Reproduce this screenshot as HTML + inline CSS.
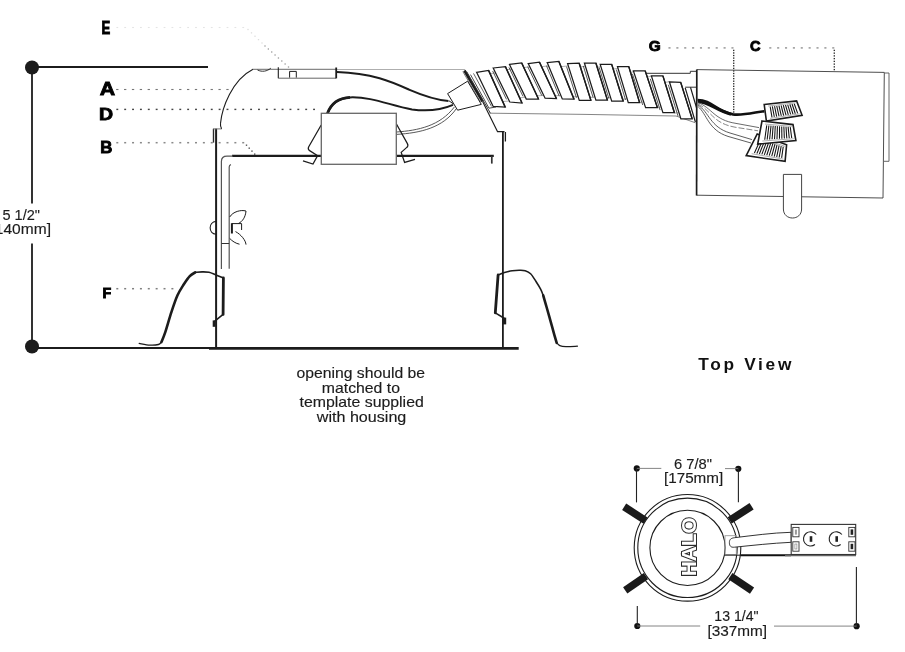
<!DOCTYPE html>
<html><head><meta charset="utf-8"><title>Recessed housing diagram</title>
<style>
html,body{margin:0;padding:0;background:#fff;}
body{width:905px;height:652px;overflow:hidden;font-family:"Liberation Sans",sans-serif;}
svg{display:block;will-change:transform;opacity:0.9999;}
svg text{font-family:"Liberation Sans",sans-serif;}
</style></head>
<body>
<svg width="905" height="652" viewBox="0 0 905 652">
<rect width="905" height="652" fill="#fff"/>
<g id="dimleft">
<line x1="32" y1="67" x2="208" y2="67" stroke="#1c1c1c" stroke-width="2" />
<line x1="32" y1="67" x2="32" y2="203.4" stroke="#1c1c1c" stroke-width="1.8" />
<line x1="32" y1="243.5" x2="32" y2="347" stroke="#1c1c1c" stroke-width="1.8" />
<line x1="32" y1="348" x2="210" y2="348" stroke="#1c1c1c" stroke-width="1.9" />
<circle cx="32" cy="67.5" r="7" fill="#1c1c1c"/>
<circle cx="32" cy="346.5" r="7" fill="#1c1c1c"/>
<text x="2.5" y="219.9" font-size="14.5" font-weight="normal" fill="#1c1c1c" textLength="37.5" lengthAdjust="spacingAndGlyphs"  stroke="#1c1c1c" stroke-width="0.15">5 1/2"</text>
<text x="-9.5" y="233.9" font-size="14.5" font-weight="normal" fill="#1c1c1c" textLength="60.5" lengthAdjust="spacingAndGlyphs"  stroke="#1c1c1c" stroke-width="0.15">[140mm]</text>
</g>
<g id="labels" font-weight="bold">
<text transform="matrix(0.13097,0,0,0.18986,101.499,33.550)" x="0" y="0" font-size="100" font-weight="bold" fill="#000" stroke="#000" stroke-width="0.9" vector-effect="non-scaling-stroke">E</text>
<text transform="matrix(0.21343,0,0,0.18116,99.816,95.350)" x="0" y="0" font-size="100" font-weight="bold" fill="#000" stroke="#000" stroke-width="0.9" vector-effect="non-scaling-stroke">A</text>
<text transform="matrix(0.19512,0,0,0.16667,99.082,119.550)" x="0" y="0" font-size="100" font-weight="bold" fill="#000" stroke="#000" stroke-width="0.9" vector-effect="non-scaling-stroke">D</text>
<text transform="matrix(0.16721,0,0,0.16377,100.363,152.750)" x="0" y="0" font-size="100" font-weight="bold" fill="#000" stroke="#000" stroke-width="0.9" vector-effect="non-scaling-stroke">B</text>
<text transform="matrix(0.14314,0,0,0.15109,102.520,298.376)" x="0" y="0" font-size="100" font-weight="bold" fill="#000" stroke="#000" stroke-width="0.9" vector-effect="non-scaling-stroke">F</text>
<text transform="matrix(0.15407,0,0,0.15493,648.734,51.195)" x="0" y="0" font-size="100" font-weight="bold" fill="#000" stroke="#000" stroke-width="0.9" vector-effect="non-scaling-stroke">G</text>
<text transform="matrix(0.14656,0,0,0.15493,750.064,51.195)" x="0" y="0" font-size="100" font-weight="bold" fill="#000" stroke="#000" stroke-width="0.9" vector-effect="non-scaling-stroke">C</text>
</g>
<g id="dots">
<rect x="116.4" y="26.95" width="1.8" height="1.1" fill="#e4e4e4"/>
<rect x="124.27" y="26.95" width="1.8" height="1.1" fill="#e4e4e4"/>
<rect x="132.14" y="26.95" width="1.8" height="1.1" fill="#e4e4e4"/>
<rect x="140.01" y="26.95" width="1.8" height="1.1" fill="#e4e4e4"/>
<rect x="147.88" y="26.95" width="1.8" height="1.1" fill="#e4e4e4"/>
<rect x="155.75" y="26.95" width="1.8" height="1.1" fill="#e4e4e4"/>
<rect x="163.62" y="26.95" width="1.8" height="1.1" fill="#e4e4e4"/>
<rect x="171.49" y="26.95" width="1.8" height="1.1" fill="#e4e4e4"/>
<rect x="179.36" y="26.95" width="1.8" height="1.1" fill="#e4e4e4"/>
<rect x="187.23" y="26.95" width="1.8" height="1.1" fill="#e4e4e4"/>
<rect x="195.1" y="26.95" width="1.8" height="1.1" fill="#e4e4e4"/>
<rect x="202.97" y="26.95" width="1.8" height="1.1" fill="#e4e4e4"/>
<rect x="210.84" y="26.95" width="1.8" height="1.1" fill="#e4e4e4"/>
<rect x="218.71" y="26.95" width="1.8" height="1.1" fill="#e4e4e4"/>
<rect x="226.58" y="26.95" width="1.8" height="1.1" fill="#e4e4e4"/>
<rect x="234.45" y="26.95" width="1.8" height="1.1" fill="#e4e4e4"/>
<rect x="242.32" y="26.95" width="1.8" height="1.1" fill="#e4e4e4"/>
<rect x="247.35" y="28.85" width="1.3" height="1.3" fill="#ddd"/>
<rect x="250.85" y="32.23" width="1.3" height="1.3" fill="#ddd"/>
<rect x="254.35" y="35.6" width="1.3" height="1.3" fill="#ddd"/>
<rect x="257.85" y="38.98" width="1.3" height="1.3" fill="#ddd"/>
<rect x="261.35" y="42.35" width="1.3" height="1.3" fill="#ddd"/>
<rect x="264.35" y="45.35" width="1.3" height="1.3" fill="#999"/>
<rect x="267.71" y="48.35" width="1.3" height="1.3" fill="#999"/>
<rect x="271.06" y="51.35" width="1.3" height="1.3" fill="#999"/>
<rect x="274.42" y="54.35" width="1.3" height="1.3" fill="#999"/>
<rect x="277.78" y="57.35" width="1.3" height="1.3" fill="#999"/>
<rect x="281.14" y="60.35" width="1.3" height="1.3" fill="#999"/>
<rect x="284.49" y="63.35" width="1.3" height="1.3" fill="#999"/>
<rect x="287.85" y="66.35" width="1.3" height="1.3" fill="#999"/>
<rect x="116.15" y="88.95" width="2.3" height="1.1" fill="#777"/>
<rect x="124.02" y="88.95" width="2.3" height="1.1" fill="#777"/>
<rect x="131.89" y="88.95" width="2.3" height="1.1" fill="#777"/>
<rect x="139.76" y="88.95" width="2.3" height="1.1" fill="#777"/>
<rect x="147.63" y="88.95" width="2.3" height="1.1" fill="#777"/>
<rect x="155.5" y="88.95" width="2.3" height="1.1" fill="#777"/>
<rect x="163.37" y="88.95" width="2.3" height="1.1" fill="#777"/>
<rect x="171.24" y="88.95" width="2.3" height="1.1" fill="#777"/>
<rect x="179.11" y="88.95" width="2.3" height="1.1" fill="#777"/>
<rect x="186.98" y="88.95" width="2.3" height="1.1" fill="#777"/>
<rect x="194.85" y="88.95" width="2.3" height="1.1" fill="#777"/>
<rect x="202.72" y="88.95" width="2.3" height="1.1" fill="#777"/>
<rect x="210.59" y="88.95" width="2.3" height="1.1" fill="#777"/>
<rect x="218.46" y="88.95" width="2.3" height="1.1" fill="#777"/>
<rect x="226.33" y="88.95" width="2.3" height="1.1" fill="#777"/>
<rect x="116.35" y="108.7" width="1.9" height="1.4" fill="#444"/>
<rect x="124.22" y="108.7" width="1.9" height="1.4" fill="#444"/>
<rect x="132.09" y="108.7" width="1.9" height="1.4" fill="#444"/>
<rect x="139.96" y="108.7" width="1.9" height="1.4" fill="#444"/>
<rect x="147.83" y="108.7" width="1.9" height="1.4" fill="#444"/>
<rect x="155.7" y="108.7" width="1.9" height="1.4" fill="#444"/>
<rect x="163.57" y="108.7" width="1.9" height="1.4" fill="#444"/>
<rect x="171.44" y="108.7" width="1.9" height="1.4" fill="#444"/>
<rect x="179.31" y="108.7" width="1.9" height="1.4" fill="#444"/>
<rect x="187.18" y="108.7" width="1.9" height="1.4" fill="#444"/>
<rect x="195.05" y="108.7" width="1.9" height="1.4" fill="#444"/>
<rect x="202.92" y="108.7" width="1.9" height="1.4" fill="#444"/>
<rect x="210.79" y="108.7" width="1.9" height="1.4" fill="#444"/>
<rect x="218.66" y="108.7" width="1.9" height="1.4" fill="#444"/>
<rect x="226.53" y="108.7" width="1.9" height="1.4" fill="#444"/>
<rect x="234.4" y="108.7" width="1.9" height="1.4" fill="#444"/>
<rect x="242.27" y="108.7" width="1.9" height="1.4" fill="#444"/>
<rect x="250.14" y="108.7" width="1.9" height="1.4" fill="#444"/>
<rect x="258.01" y="108.7" width="1.9" height="1.4" fill="#444"/>
<rect x="265.88" y="108.7" width="1.9" height="1.4" fill="#444"/>
<rect x="273.75" y="108.7" width="1.9" height="1.4" fill="#444"/>
<rect x="281.62" y="108.7" width="1.9" height="1.4" fill="#444"/>
<rect x="289.49" y="108.7" width="1.9" height="1.4" fill="#444"/>
<rect x="297.36" y="108.7" width="1.9" height="1.4" fill="#444"/>
<rect x="305.23" y="108.7" width="1.9" height="1.4" fill="#444"/>
<rect x="313.1" y="108.7" width="1.9" height="1.4" fill="#444"/>
<rect x="116.3" y="141.95" width="2.0" height="1.5" fill="#8a8a8a"/>
<rect x="124.17" y="141.95" width="2.0" height="1.5" fill="#8a8a8a"/>
<rect x="132.04" y="141.95" width="2.0" height="1.5" fill="#8a8a8a"/>
<rect x="139.91" y="141.95" width="2.0" height="1.5" fill="#8a8a8a"/>
<rect x="147.78" y="141.95" width="2.0" height="1.5" fill="#8a8a8a"/>
<rect x="155.65" y="141.95" width="2.0" height="1.5" fill="#8a8a8a"/>
<rect x="163.52" y="141.95" width="2.0" height="1.5" fill="#8a8a8a"/>
<rect x="171.39" y="141.95" width="2.0" height="1.5" fill="#8a8a8a"/>
<rect x="179.26" y="141.95" width="2.0" height="1.5" fill="#8a8a8a"/>
<rect x="187.13" y="141.95" width="2.0" height="1.5" fill="#8a8a8a"/>
<rect x="195" y="141.95" width="2.0" height="1.5" fill="#8a8a8a"/>
<rect x="202.87" y="141.95" width="2.0" height="1.5" fill="#8a8a8a"/>
<rect x="210.74" y="141.95" width="2.0" height="1.5" fill="#8a8a8a"/>
<rect x="218.61" y="141.95" width="2.0" height="1.5" fill="#8a8a8a"/>
<rect x="226.48" y="141.95" width="2.0" height="1.5" fill="#8a8a8a"/>
<rect x="234.35" y="141.95" width="2.0" height="1.5" fill="#8a8a8a"/>
<rect x="242.22" y="141.95" width="2.0" height="1.5" fill="#8a8a8a"/>
<rect x="245.8" y="144.5" width="1.4" height="1.4" fill="#555"/>
<rect x="248.53" y="147.47" width="1.4" height="1.4" fill="#555"/>
<rect x="251.27" y="150.43" width="1.4" height="1.4" fill="#555"/>
<rect x="254" y="153.4" width="1.4" height="1.4" fill="#555"/>
<rect x="116.3" y="287.95" width="2.0" height="1.5" fill="#808080"/>
<rect x="124.17" y="287.95" width="2.0" height="1.5" fill="#808080"/>
<rect x="132.04" y="287.95" width="2.0" height="1.5" fill="#808080"/>
<rect x="139.91" y="287.95" width="2.0" height="1.5" fill="#808080"/>
<rect x="147.78" y="287.95" width="2.0" height="1.5" fill="#808080"/>
<rect x="155.65" y="287.95" width="2.0" height="1.5" fill="#808080"/>
<rect x="163.52" y="287.95" width="2.0" height="1.5" fill="#808080"/>
<rect x="171.39" y="287.95" width="2.0" height="1.5" fill="#808080"/>
<rect x="668.45" y="47.15" width="2.1" height="1.5" fill="#999"/>
<rect x="676.32" y="47.15" width="2.1" height="1.5" fill="#999"/>
<rect x="684.19" y="47.15" width="2.1" height="1.5" fill="#999"/>
<rect x="692.06" y="47.15" width="2.1" height="1.5" fill="#999"/>
<rect x="699.93" y="47.15" width="2.1" height="1.5" fill="#999"/>
<rect x="707.8" y="47.15" width="2.1" height="1.5" fill="#999"/>
<rect x="715.67" y="47.15" width="2.1" height="1.5" fill="#999"/>
<rect x="723.54" y="47.15" width="2.1" height="1.5" fill="#999"/>
<rect x="731.41" y="47.15" width="2.1" height="1.5" fill="#999"/>
<rect x="733.03" y="49.73" width="1.35" height="1.35" fill="#2a2a2a"/>
<rect x="733.03" y="52.29" width="1.35" height="1.35" fill="#2a2a2a"/>
<rect x="733.03" y="54.86" width="1.35" height="1.35" fill="#2a2a2a"/>
<rect x="733.03" y="57.43" width="1.35" height="1.35" fill="#2a2a2a"/>
<rect x="733.03" y="59.99" width="1.35" height="1.35" fill="#2a2a2a"/>
<rect x="733.03" y="62.56" width="1.35" height="1.35" fill="#2a2a2a"/>
<rect x="733.03" y="65.12" width="1.35" height="1.35" fill="#2a2a2a"/>
<rect x="733.03" y="67.69" width="1.35" height="1.35" fill="#2a2a2a"/>
<rect x="733.03" y="70.26" width="1.35" height="1.35" fill="#2a2a2a"/>
<rect x="733.03" y="72.83" width="1.35" height="1.35" fill="#2a2a2a"/>
<rect x="733.03" y="75.39" width="1.35" height="1.35" fill="#2a2a2a"/>
<rect x="733.03" y="77.96" width="1.35" height="1.35" fill="#2a2a2a"/>
<rect x="733.03" y="80.53" width="1.35" height="1.35" fill="#2a2a2a"/>
<rect x="733.03" y="83.09" width="1.35" height="1.35" fill="#2a2a2a"/>
<rect x="733.03" y="85.66" width="1.35" height="1.35" fill="#2a2a2a"/>
<rect x="733.03" y="88.23" width="1.35" height="1.35" fill="#2a2a2a"/>
<rect x="733.03" y="90.79" width="1.35" height="1.35" fill="#2a2a2a"/>
<rect x="733.03" y="93.36" width="1.35" height="1.35" fill="#2a2a2a"/>
<rect x="733.03" y="95.92" width="1.35" height="1.35" fill="#2a2a2a"/>
<rect x="733.03" y="98.49" width="1.35" height="1.35" fill="#2a2a2a"/>
<rect x="733.03" y="101.06" width="1.35" height="1.35" fill="#2a2a2a"/>
<rect x="733.03" y="103.62" width="1.35" height="1.35" fill="#2a2a2a"/>
<rect x="733.03" y="106.19" width="1.35" height="1.35" fill="#2a2a2a"/>
<rect x="733.03" y="108.76" width="1.35" height="1.35" fill="#2a2a2a"/>
<rect x="733.03" y="111.33" width="1.35" height="1.35" fill="#2a2a2a"/>
<rect x="769.25" y="47.15" width="2.1" height="1.5" fill="#999"/>
<rect x="777.12" y="47.15" width="2.1" height="1.5" fill="#999"/>
<rect x="784.99" y="47.15" width="2.1" height="1.5" fill="#999"/>
<rect x="792.86" y="47.15" width="2.1" height="1.5" fill="#999"/>
<rect x="800.73" y="47.15" width="2.1" height="1.5" fill="#999"/>
<rect x="808.6" y="47.15" width="2.1" height="1.5" fill="#999"/>
<rect x="816.47" y="47.15" width="2.1" height="1.5" fill="#999"/>
<rect x="824.34" y="47.15" width="2.1" height="1.5" fill="#999"/>
<rect x="832.21" y="47.15" width="2.1" height="1.5" fill="#999"/>
<rect x="833.62" y="49.73" width="1.35" height="1.35" fill="#2a2a2a"/>
<rect x="833.62" y="52.47" width="1.35" height="1.35" fill="#2a2a2a"/>
<rect x="833.62" y="55.21" width="1.35" height="1.35" fill="#2a2a2a"/>
<rect x="833.62" y="57.95" width="1.35" height="1.35" fill="#2a2a2a"/>
<rect x="833.62" y="60.7" width="1.35" height="1.35" fill="#2a2a2a"/>
<rect x="833.62" y="63.44" width="1.35" height="1.35" fill="#2a2a2a"/>
<rect x="833.62" y="66.18" width="1.35" height="1.35" fill="#2a2a2a"/>
<rect x="833.62" y="68.92" width="1.35" height="1.35" fill="#2a2a2a"/>
</g>
<g id="housing">
<line x1="209" y1="348.4" x2="518.7" y2="348.4" stroke="#1c1c1c" stroke-width="2.8" />
<line x1="216.1" y1="128.7" x2="216.1" y2="348" stroke="#1c1c1c" stroke-width="2" />
<line x1="213.5" y1="128.8" x2="213.5" y2="142.6" stroke="#2a2a2a" stroke-width="1.4" />
<line x1="213" y1="128.9" x2="221.8" y2="128.9" stroke="#666" stroke-width="0.9" />
<path d="M221.6,128.8 C220.6,127 220.2,125.6 220.5,123.4 C222,108 232,80 253,69.3" stroke="#1c1c1c" stroke-width="1.1" fill="none" />
<line x1="252.5" y1="69.3" x2="337" y2="69.3" stroke="#444" stroke-width="0.8" />
<path d="M257.5,70 C262,72.2 267,71.4 270.8,68.2" stroke="#1c1c1c" stroke-width="0.9" fill="none" />
<line x1="336" y1="69.5" x2="465" y2="69.5" stroke="#999" stroke-width="0.8" />
<line x1="278.3" y1="67.3" x2="278.3" y2="78.3" stroke="#1c1c1c" stroke-width="1.1" />
<line x1="278.3" y1="78.2" x2="336" y2="78.2" stroke="#555" stroke-width="0.9" />
<line x1="336.2" y1="67.5" x2="336.2" y2="78.4" stroke="#1c1c1c" stroke-width="1.8" />
<path d="M289.6,77.6 V71.4 H296.3 V77.6" stroke="#1c1c1c" stroke-width="1" fill="none" />
<line x1="502.9" y1="131" x2="502.9" y2="348" stroke="#1c1c1c" stroke-width="1.8" />
<path d="M505.4,132 V141.5" stroke="#1c1c1c" stroke-width="1.3" fill="none" />
<path d="M464.4,70.5 L482.6,101.5" stroke="#1c1c1c" stroke-width="2.6" fill="none" />
<path d="M466.6,71.5 L490.5,113.4" stroke="#333" stroke-width="1" fill="none" />
<path d="M462.8,71.5 L480.5,102" stroke="#555" stroke-width="0.8" fill="none" />
<path d="M482.6,101.5 L497.5,131.6 H504.5" stroke="#1c1c1c" stroke-width="1.1" fill="none" />
<line x1="232" y1="155.9" x2="321.3" y2="155.9" stroke="#1c1c1c" stroke-width="2.2" />
<line x1="396.3" y1="155.9" x2="493.8" y2="155.9" stroke="#1c1c1c" stroke-width="2.2" />
<line x1="491.8" y1="156" x2="491.8" y2="163.6" stroke="#333" stroke-width="1.7" />
<path d="M221.4,269 V161.5 Q221.4,156.2 227,156.2 H233" stroke="#555" stroke-width="1.2" fill="none" />
<path d="M229.2,268.8 V167 Q229.2,165 231,164.6" stroke="#555" stroke-width="1.2" fill="none" />
<line x1="221.4" y1="243.5" x2="229.2" y2="243.5" stroke="#333" stroke-width="1" />
<path d="M216,221.4 C208.2,222 208.2,233.6 216,234.2" stroke="#1c1c1c" stroke-width="1.1" fill="none" />
<path d="M229.7,217 C233,211.5 241,209.6 246,211 C245.5,217 242.5,221.6 238.5,223.4" stroke="#1c1c1c" stroke-width="1" fill="none" />
<line x1="231.9" y1="223.2" x2="231.9" y2="233.5" stroke="#1c1c1c" stroke-width="2" />
<path d="M232,223.6 H241.6 V230" stroke="#1c1c1c" stroke-width="1" fill="none" />
<path d="M229.7,238.4 C232,241 236,243.6 239.5,244.2 M246,244.6 C245.8,240.5 241,234.4 235.5,231.6" stroke="#1c1c1c" stroke-width="1" fill="none" />
</g>
<g id="wires" fill="none">
<path d="M337,72 C372,73 392,82 409,89.6 C425,96.5 436,100 448.5,101" stroke="#1c1c1c" stroke-width="2.0" fill="none" />
<path d="M327.5,113.2 C331,104 338,98 350,97.4 C372,96.6 390,105.5 412,109.4 C428,111.6 441,110 453,104.8" stroke="#1c1c1c" stroke-width="2.0" fill="none" />
<path d="M327.5,113.2 C331,104 338,98 350,97.4" stroke="#1c1c1c" stroke-width="2.8" fill="none" />
<path d="M396.5,132 C418,130.5 440,126 454.5,106.8" stroke="#444" stroke-width="0.9" fill="none" />
<path d="M396.5,134.4 C420,133 443,128 456.5,108.4" stroke="#444" stroke-width="0.9" fill="none" />
<path d="M449,100.8 L453.5,104" stroke="#1c1c1c" stroke-width="1" fill="none" />
<polygon points="447.6,93.6 467.6,81.2 481.3,104.4 457.6,110.2" stroke="#1c1c1c" stroke-width="1" fill="#fff" stroke-linejoin="miter" />
</g>
<g id="xfmr">
<path d="M321.2,125 L308.6,147 Q307.6,149.4 309.6,150.6 L317.6,155.6 L313,164 L303,160.8" stroke="#1c1c1c" stroke-width="1.25" fill="none" />
<path d="M396.3,123.8 L407.4,143.6 Q408.6,146 406.8,147.4 L401.2,152.4 L404.6,162.4 L415,159.4" stroke="#1c1c1c" stroke-width="1.25" fill="none" />
<rect x="321.3" y="113.3" width="75" height="51" fill="#fff" stroke="#666" stroke-width="1.3"/>
</g>
<g id="springs" fill="none" stroke-linecap="round" stroke-linejoin="round">
<path d="M139.2,343.4 C140.98,343.68 146.7,344.92 149.9,345.1 C153.1,345.28 156.48,345 158.4,344.5 C160.32,344 160.9,342.5 161.4,342.1" stroke="#1c1c1c" stroke-width="1.3" fill="none" />
<path d="M161.4,342.1 C162.05,340.43 163.63,337.1 165.3,332.1 C166.97,327.1 169.37,318.23 171.4,312.1 C173.43,305.97 175.45,299.9 177.5,295.3 C179.55,290.7 181.65,287.7 183.7,284.5 C185.75,281.3 187.88,278.12 189.8,276.1 C191.72,274.08 194.3,273.02 195.2,272.4" stroke="#1c1c1c" stroke-width="2.6" fill="none" />
<path d="M195.2,272.4 C196.35,272.32 199.8,271.92 202.1,271.9 C204.4,271.88 206.7,271.8 209,272.3 C211.3,272.8 213.5,273.95 215.9,274.9 C218.3,275.85 222.15,277.48 223.4,278" stroke="#1c1c1c" stroke-width="1.6" fill="none" />
<path d="M223.4,278 L223.1,314.4" stroke="#1c1c1c" stroke-width="2.8" fill="none" />
<path d="M223.1,314.4 L215.1,320.8" stroke="#1c1c1c" stroke-width="1.6" fill="none" />
<rect x="212.7" y="320.4" width="3" height="6.4" fill="#1c1c1c"/>
<path d="M498.1,275 C499.17,274.6 502.15,273.32 504.5,272.6 C506.85,271.88 509.63,271.08 512.2,270.7 C514.77,270.32 517.73,270.28 519.9,270.3 C522.07,270.32 523.42,270.22 525.2,270.8 C526.98,271.38 528.8,272.02 530.6,273.8 C532.4,275.58 534.33,278.95 536,281.5 C537.67,284.05 539.4,286.8 540.6,289.1 C541.8,291.4 542.77,294.27 543.2,295.3" stroke="#1c1c1c" stroke-width="1.6" fill="none" />
<path d="M543.2,295.3 C543.78,297.33 545.47,303.17 546.7,307.5 C547.93,311.83 549.32,316.68 550.6,321.3 C551.88,325.92 553.38,331.62 554.4,335.2 C555.42,338.78 556.32,341.53 556.7,342.8" stroke="#1c1c1c" stroke-width="2.6" fill="none" />
<path d="M556.7,342.8 C557.22,343.27 558.27,344.97 559.8,345.6 C561.33,346.23 562.97,346.5 565.9,346.6 C568.83,346.7 575.48,346.27 577.4,346.2" stroke="#1c1c1c" stroke-width="1.3" fill="none" />
<path d="M498.1,275 L495.3,312.9" stroke="#1c1c1c" stroke-width="2.8" fill="none" />
<path d="M495.3,312.9 L503.8,318" stroke="#1c1c1c" stroke-width="1.6" fill="none" />
<rect x="502.8" y="317.6" width="3.4" height="6.8" fill="#1c1c1c"/>
</g>
<g id="conduit">
<path d="M646.5,73.3 H690.3 V71.3 H697" stroke="#333" stroke-width="1" fill="none" />
<path d="M685.2,87.2 H697" stroke="#333" stroke-width="1" fill="none" />
<path d="M488.5,112.6 L491,113.2 L585,114.4 L676,116 L695.5,122.8" stroke="#777" stroke-width="0.9" fill="none" />
<line x1="489.31" y1="73.75" x2="496.01" y2="72.95" stroke="#999" stroke-width="0.8" />
<line x1="502.57" y1="101.5" x2="509.31" y2="101" stroke="#999" stroke-width="0.8" />
<line x1="492.66" y1="71" x2="506.53" y2="99.4" stroke="#444" stroke-width="0.9" />
<line x1="506.28" y1="69.8" x2="512.12" y2="69" stroke="#999" stroke-width="0.8" />
<line x1="519.71" y1="97.8" x2="525.47" y2="97.3" stroke="#999" stroke-width="0.8" />
<line x1="508.96" y1="67.4" x2="523.04" y2="96.4" stroke="#444" stroke-width="0.9" />
<line x1="523.25" y1="67.6" x2="530.15" y2="66.8" stroke="#999" stroke-width="0.8" />
<line x1="536.75" y1="95.9" x2="543.73" y2="95.4" stroke="#999" stroke-width="0.8" />
<line x1="527.67" y1="66.6" x2="541.83" y2="95.6" stroke="#444" stroke-width="0.9" />
<line x1="541.01" y1="66.7" x2="548.91" y2="65.9" stroke="#999" stroke-width="0.8" />
<line x1="555.01" y1="95.85" x2="560.82" y2="95.35" stroke="#999" stroke-width="0.8" />
<line x1="546.45" y1="65.6" x2="559.22" y2="96.3" stroke="#444" stroke-width="0.9" />
<line x1="560.61" y1="66.7" x2="568.59" y2="65.9" stroke="#999" stroke-width="0.8" />
<line x1="572.98" y1="96.95" x2="578.04" y2="96.45" stroke="#999" stroke-width="0.8" />
<line x1="566.55" y1="66.6" x2="576.47" y2="97.8" stroke="#444" stroke-width="0.9" />
<line x1="580.25" y1="66.9" x2="585.61" y2="66.1" stroke="#999" stroke-width="0.8" />
<line x1="589.83" y1="97.55" x2="594.95" y2="97.05" stroke="#999" stroke-width="0.8" />
<line x1="583.33" y1="66" x2="593.09" y2="97.5" stroke="#444" stroke-width="0.9" />
<line x1="597.23" y1="67.3" x2="601.11" y2="66.5" stroke="#999" stroke-width="0.8" />
<line x1="606.58" y1="97.95" x2="610.53" y2="97.45" stroke="#999" stroke-width="0.8" />
<line x1="599.14" y1="67.4" x2="608.89" y2="98.6" stroke="#444" stroke-width="0.9" />
<line x1="613.17" y1="69.1" x2="618.25" y2="68.3" stroke="#999" stroke-width="0.8" />
<line x1="622.42" y1="99.2" x2="627.13" y2="98.7" stroke="#999" stroke-width="0.8" />
<line x1="616.4" y1="69.6" x2="625.52" y2="100" stroke="#444" stroke-width="0.9" />
<line x1="630.52" y1="72.35" x2="633.88" y2="71.55" stroke="#999" stroke-width="0.8" />
<line x1="639.39" y1="102.4" x2="643.71" y2="101.9" stroke="#999" stroke-width="0.8" />
<line x1="632.4" y1="73.9" x2="642.74" y2="105" stroke="#444" stroke-width="0.9" />
<line x1="647.23" y1="77" x2="651.74" y2="76.2" stroke="#999" stroke-width="0.8" />
<line x1="657.18" y1="107.45" x2="661.1" y2="106.95" stroke="#999" stroke-width="0.8" />
<line x1="650.34" y1="78.9" x2="660.09" y2="110.1" stroke="#444" stroke-width="0.9" />
<line x1="664.95" y1="82.45" x2="669.6" y2="81.65" stroke="#999" stroke-width="0.8" />
<line x1="674.37" y1="113.1" x2="678.95" y2="112.6" stroke="#999" stroke-width="0.8" />
<line x1="668.33" y1="84.8" x2="678.09" y2="116.3" stroke="#444" stroke-width="0.9" />
<polygon points="476.6,72.3 488.6,70.4 505.2,107.1 493.2,106.4" stroke="#1c1c1c" stroke-width="1.25" fill="#fff" stroke-linejoin="miter" />
<line x1="488.6" y1="70.4" x2="505.2" y2="107.1" stroke="#1c1c1c" stroke-width="1.4" />
<polygon points="493.2,68 505.4,66.6 522,103 509.8,102" stroke="#1c1c1c" stroke-width="1.25" fill="#fff" stroke-linejoin="miter" />
<line x1="505.4" y1="66.6" x2="522" y2="103" stroke="#1c1c1c" stroke-width="1.4" />
<polygon points="509.5,64.4 521.7,63 538.5,99 526.3,99" stroke="#1c1c1c" stroke-width="1.25" fill="#fff" stroke-linejoin="miter" />
<line x1="521.7" y1="63" x2="538.5" y2="99" stroke="#1c1c1c" stroke-width="1.4" />
<polygon points="528.2,63.6 539.5,62.2 556.4,98.5 545.1,98.2" stroke="#1c1c1c" stroke-width="1.25" fill="#fff" stroke-linejoin="miter" />
<line x1="539.5" y1="62.2" x2="556.4" y2="98.5" stroke="#1c1c1c" stroke-width="1.4" />
<polygon points="547.2,62.6 558.9,61.5 574,99.2 562.3,98.9" stroke="#1c1c1c" stroke-width="1.25" fill="#fff" stroke-linejoin="miter" />
<line x1="558.9" y1="61.5" x2="574" y2="99.2" stroke="#1c1c1c" stroke-width="1.4" />
<polygon points="567.6,63.6 579.2,63.2 590.9,100.4 579.3,100.4" stroke="#1c1c1c" stroke-width="1.25" fill="#fff" stroke-linejoin="miter" />
<line x1="579.2" y1="63.2" x2="590.9" y2="100.4" stroke="#1c1c1c" stroke-width="1.4" />
<polygon points="584.4,63 595.9,63 607.4,100.1 595.9,100.1" stroke="#1c1c1c" stroke-width="1.25" fill="#fff" stroke-linejoin="miter" />
<line x1="595.9" y1="63" x2="607.4" y2="100.1" stroke="#1c1c1c" stroke-width="1.4" />
<polygon points="600.2,64.4 611.7,64.4 623.2,101.2 611.7,101.2" stroke="#1c1c1c" stroke-width="1.25" fill="#fff" stroke-linejoin="miter" />
<line x1="611.7" y1="64.4" x2="623.2" y2="101.2" stroke="#1c1c1c" stroke-width="1.4" />
<polygon points="617.5,66.6 628.8,66.6 639.6,102.6 628.3,102.6" stroke="#1c1c1c" stroke-width="1.25" fill="#fff" stroke-linejoin="miter" />
<line x1="628.8" y1="66.6" x2="639.6" y2="102.6" stroke="#1c1c1c" stroke-width="1.4" />
<polygon points="633.4,70.9 645.2,70.9 657.4,107.6 645.6,107.6" stroke="#1c1c1c" stroke-width="1.25" fill="#fff" stroke-linejoin="miter" />
<line x1="645.2" y1="70.9" x2="657.4" y2="107.6" stroke="#1c1c1c" stroke-width="1.4" />
<polygon points="651.4,75.9 662.9,75.9 674.4,112.7 662.9,112.7" stroke="#1c1c1c" stroke-width="1.25" fill="#fff" stroke-linejoin="miter" />
<line x1="662.9" y1="75.9" x2="674.4" y2="112.7" stroke="#1c1c1c" stroke-width="1.4" />
<polygon points="669.4,81.8 680.7,82.4 692.2,118.9 680.9,118.9" stroke="#1c1c1c" stroke-width="1.25" fill="#fff" stroke-linejoin="miter" />
<line x1="680.7" y1="82.4" x2="692.2" y2="118.9" stroke="#1c1c1c" stroke-width="1.4" />
<path d="M685.2,87.8 L695.4,122 M690.5,87.4 L696.6,108" stroke="#1c1c1c" stroke-width="1.2" fill="none" />
<path d="M470.5,74.6 L489,108.2 L496,107" stroke="#333" stroke-width="0.9" fill="none" />
<path d="M473.5,73.4 L491.5,106.4" stroke="#555" stroke-width="0.9" fill="none" />
</g>
<g id="jbox">
<path d="M884.6,73 H889 V161.3 H884" stroke="#555" stroke-width="0.9" fill="none" />
<path d="M696.8,69.6 L884.3,72.4 L883,198 L696.6,195.2" stroke="#3a3a3a" stroke-width="0.9" fill="none" />
<line x1="696.8" y1="69.4" x2="696.6" y2="195.4" stroke="#1c1c1c" stroke-width="1.7" />
<path d="M783.4,174.4 H801.6 V209 C801.6,221 783.4,221 783.4,209 Z" stroke="#444" stroke-width="1" fill="#fff" />
<path d="M697.6,100 C712,100 716,111.5 733,114.4 C744,115.6 756,112 764.4,111.2" stroke="#111" stroke-width="2.6" fill="none" />
<path d="M698,101.6 C709,101.6 716,110.4 731,114.2" stroke="#111" stroke-width="3.2" fill="none" />
<path d="M698,102.5 C712,108 714,120 736,123.4 L759,127.6" stroke="#444" stroke-width="0.8" fill="none" />
<path d="M698,104 C711,110 712,123 735,127.2 L758,130.8" stroke="#666" stroke-width="0.8" fill="none" stroke-dasharray="6 2"/>
<path d="M698,105 C709,112 710,127 730,133 L752,139.6" stroke="#333" stroke-width="0.8" fill="none" />
<path d="M698,106.5 C707,114 708,130 728,136.4 L751,143" stroke="#333" stroke-width="0.8" fill="none" />
<polygon points="757.2,134 786.6,144.8 785.1,161.4 746.2,155.6" stroke="#1c1c1c" stroke-width="1.6" fill="#fff" stroke-linejoin="miter" stroke-linejoin="round"/>
<line x1="760.6" y1="139.36" x2="754.41" y2="153.06" stroke="#111" stroke-width="1.05" />
<line x1="762.66" y1="140.02" x2="756.88" y2="153.5" stroke="#111" stroke-width="1.05" />
<line x1="764.72" y1="140.68" x2="759.36" y2="153.94" stroke="#111" stroke-width="1.05" />
<line x1="766.78" y1="141.34" x2="761.83" y2="154.38" stroke="#111" stroke-width="1.05" />
<line x1="768.84" y1="142" x2="764.31" y2="154.82" stroke="#111" stroke-width="1.05" />
<line x1="770.89" y1="142.67" x2="766.78" y2="155.27" stroke="#111" stroke-width="1.05" />
<line x1="772.95" y1="143.33" x2="769.25" y2="155.71" stroke="#111" stroke-width="1.05" />
<line x1="775.01" y1="143.99" x2="771.73" y2="156.15" stroke="#111" stroke-width="1.05" />
<line x1="777.07" y1="144.65" x2="774.2" y2="156.59" stroke="#111" stroke-width="1.05" />
<line x1="779.13" y1="145.31" x2="776.68" y2="157.03" stroke="#111" stroke-width="1.05" />
<line x1="781.19" y1="145.97" x2="779.15" y2="157.47" stroke="#111" stroke-width="1.05" />
<line x1="783.24" y1="146.63" x2="781.63" y2="157.91" stroke="#111" stroke-width="1.05" />
<line x1="759.24" y1="137.71" x2="784.89" y2="146.28" stroke="#777" stroke-width="0.6" />
<line x1="751.67" y1="153.71" x2="783.39" y2="159.09" stroke="#777" stroke-width="0.6" />
<polygon points="762,121 793,124.6 795.9,140.5 757.7,144.1" stroke="#1c1c1c" stroke-width="1.6" fill="#fff" stroke-linejoin="miter" stroke-linejoin="round"/>
<line x1="766.75" y1="125.33" x2="764.72" y2="139.77" stroke="#111" stroke-width="1.05" />
<line x1="768.89" y1="125.49" x2="767.17" y2="139.61" stroke="#111" stroke-width="1.05" />
<line x1="771.02" y1="125.65" x2="769.62" y2="139.45" stroke="#111" stroke-width="1.05" />
<line x1="773.16" y1="125.8" x2="772.08" y2="139.3" stroke="#111" stroke-width="1.05" />
<line x1="775.3" y1="125.96" x2="774.53" y2="139.14" stroke="#111" stroke-width="1.05" />
<line x1="777.44" y1="126.12" x2="776.99" y2="138.98" stroke="#111" stroke-width="1.05" />
<line x1="779.58" y1="126.28" x2="779.44" y2="138.82" stroke="#111" stroke-width="1.05" />
<line x1="781.72" y1="126.43" x2="781.89" y2="138.67" stroke="#111" stroke-width="1.05" />
<line x1="783.86" y1="126.59" x2="784.35" y2="138.51" stroke="#111" stroke-width="1.05" />
<line x1="785.99" y1="126.75" x2="786.8" y2="138.35" stroke="#111" stroke-width="1.05" />
<line x1="788.13" y1="126.91" x2="789.26" y2="138.19" stroke="#111" stroke-width="1.05" />
<line x1="790.27" y1="127.07" x2="791.71" y2="138.03" stroke="#111" stroke-width="1.05" />
<line x1="764.99" y1="124.07" x2="791.75" y2="126.37" stroke="#777" stroke-width="0.6" />
<line x1="762.32" y1="141.03" x2="793.69" y2="138.73" stroke="#777" stroke-width="0.6" />
<polygon points="764.2,104.5 796.6,100.9 802.1,115.3 766.4,121" stroke="#1c1c1c" stroke-width="1.6" fill="#fff" stroke-linejoin="miter" stroke-linejoin="round"/>
<line x1="770.18" y1="106.63" x2="772" y2="117.29" stroke="#111" stroke-width="1.05" />
<line x1="772.36" y1="106.37" x2="774.33" y2="116.93" stroke="#111" stroke-width="1.05" />
<line x1="774.55" y1="106.11" x2="776.66" y2="116.58" stroke="#111" stroke-width="1.05" />
<line x1="776.74" y1="105.84" x2="779" y2="116.22" stroke="#111" stroke-width="1.05" />
<line x1="778.93" y1="105.58" x2="781.33" y2="115.87" stroke="#111" stroke-width="1.05" />
<line x1="781.11" y1="105.32" x2="783.66" y2="115.51" stroke="#111" stroke-width="1.05" />
<line x1="783.3" y1="105.06" x2="785.99" y2="115.16" stroke="#111" stroke-width="1.05" />
<line x1="785.49" y1="104.79" x2="788.32" y2="114.8" stroke="#111" stroke-width="1.05" />
<line x1="787.68" y1="104.53" x2="790.66" y2="114.45" stroke="#111" stroke-width="1.05" />
<line x1="789.86" y1="104.27" x2="792.99" y2="114.1" stroke="#111" stroke-width="1.05" />
<line x1="792.05" y1="104.01" x2="795.32" y2="113.74" stroke="#111" stroke-width="1.05" />
<line x1="794.24" y1="103.74" x2="797.65" y2="113.39" stroke="#111" stroke-width="1.05" />
<line x1="768.07" y1="106.06" x2="795.62" y2="102.82" stroke="#777" stroke-width="0.6" />
<line x1="770.02" y1="118.42" x2="799.67" y2="113.84" stroke="#777" stroke-width="0.6" />
</g>
<g id="note">
<text x="296.5" y="377.5" font-size="14.5" font-weight="normal" fill="#1c1c1c" textLength="128.5" lengthAdjust="spacingAndGlyphs"  stroke="#1c1c1c" stroke-width="0.15">opening should be</text>
<text x="321.8" y="393.3" font-size="14.5" font-weight="normal" fill="#1c1c1c" textLength="78.2" lengthAdjust="spacingAndGlyphs"  stroke="#1c1c1c" stroke-width="0.15">matched to</text>
<text x="299.5" y="406.8" font-size="14.5" font-weight="normal" fill="#1c1c1c" textLength="124.3" lengthAdjust="spacingAndGlyphs"  stroke="#1c1c1c" stroke-width="0.15">template supplied</text>
<text x="316.8" y="421.8" font-size="14.5" font-weight="normal" fill="#1c1c1c" textLength="89.5" lengthAdjust="spacingAndGlyphs"  stroke="#1c1c1c" stroke-width="0.15">with housing</text>
<text x="698.2" y="370.1" font-size="16" font-weight="bold" fill="#111" letter-spacing="2.5" textLength="95.85" lengthAdjust="spacingAndGlyphs">Top View</text>
</g>
<g id="topview">
<circle cx="687.5" cy="547.85" r="53.3" fill="#fff" stroke="#1c1c1c" stroke-width="1.1"/>
<circle cx="687.5" cy="547.85" r="49.7" fill="none" stroke="#1c1c1c" stroke-width="1.1"/>
<line x1="645.57" y1="520.62" x2="624.18" y2="506.73" stroke="#1a1a1a" stroke-width="7.5" />
<line x1="729.69" y1="520.45" x2="751.57" y2="506.24" stroke="#1a1a1a" stroke-width="7.5" />
<line x1="645.95" y1="576.2" x2="625.21" y2="590.34" stroke="#1a1a1a" stroke-width="7.5" />
<line x1="730.36" y1="576.22" x2="752.04" y2="590.57" stroke="#1a1a1a" stroke-width="7.5" />
<circle cx="687.5" cy="547.85" r="37.6" fill="none" stroke="#1c1c1c" stroke-width="1.1"/>
<rect x="725" y="535.7" width="11.3" height="18.8" fill="none" stroke="#999" stroke-width="0.9"/>
<line x1="724.4" y1="555.2" x2="741" y2="555.2" stroke="#222" stroke-width="1.0" />
<line x1="740.5" y1="555.2" x2="791" y2="555.2" stroke="#111" stroke-width="1.9" />
<line x1="785" y1="555.6" x2="856" y2="555.6" stroke="#666" stroke-width="1.2" />
<path d="M734.5,537.7 C752,535.6 772,532.8 791.2,532.3 V542.3 C772,543.2 752,545.4 734.5,547.2 C730.8,547.6 729.4,546 729.4,542.6 C729.4,539.4 730.8,538.2 734.5,537.7 Z" stroke="#333" stroke-width="1" fill="#fff" />
<rect x="791.2" y="524.4" width="64.5" height="30.1" fill="#fff" stroke="#333" stroke-width="1.1"/>
<rect x="792.8" y="527.4" width="6.2" height="9.4" fill="#fff" stroke="#333" stroke-width="0.9"/>
<rect x="792.8" y="541.8" width="6.2" height="9.4" fill="#fff" stroke="#333" stroke-width="0.9"/>
<rect x="848.8" y="527.4" width="6.2" height="9.4" fill="#fff" stroke="#333" stroke-width="0.9"/>
<rect x="848.8" y="541.8" width="6.2" height="9.4" fill="#fff" stroke="#333" stroke-width="0.9"/>
<rect x="794.9" y="529.6" width="2" height="5" fill="#999"/>
<rect x="794.9" y="544" width="2" height="5" fill="none" stroke="#777" stroke-width="0.6"/>
<rect x="850.6" y="529.4" width="2.6" height="5.4" fill="#222"/>
<rect x="850.6" y="543.8" width="2.6" height="5.4" fill="#222"/>
<path d="M816.19,534.53 A7.1,7.1 0 1 0 814.97,544.49" stroke="#222" stroke-width="1.1" fill="none" />
<rect x="809.7" y="536.2" width="2.6" height="5.6" fill="#222"/>
<path d="M841.89,534.53 A7.1,7.1 0 1 0 840.67,544.49" stroke="#222" stroke-width="1.1" fill="none" />
<rect x="835.4" y="536.2" width="2.6" height="5.6" fill="#222"/>
<text transform="translate(695.5,576.3) rotate(-90)" font-size="20.3" font-weight="bold" fill="#fff" stroke="#2a2a2a" stroke-width="2.0" stroke-linejoin="miter" paint-order="stroke" textLength="59" lengthAdjust="spacingAndGlyphs">HALO</text>
<circle cx="636.8" cy="468.4" r="3.1" fill="#111"/>
<circle cx="738.3" cy="468.8" r="3.1" fill="#111"/>
<line x1="636.8" y1="468.4" x2="661.3" y2="468.4" stroke="#777" stroke-width="0.9" />
<line x1="725" y1="468.6" x2="738.3" y2="468.6" stroke="#777" stroke-width="0.9" />
<line x1="636.5" y1="468.4" x2="636.5" y2="502.4" stroke="#222" stroke-width="1.1" />
<line x1="738.4" y1="468.8" x2="738.4" y2="502.3" stroke="#222" stroke-width="1.1" />
<text x="674" y="469.3" font-size="14.6" font-weight="normal" fill="#1c1c1c" textLength="38" lengthAdjust="spacingAndGlyphs"  stroke="#1c1c1c" stroke-width="0.15">6 7/8"</text>
<text x="664" y="483.4" font-size="14.2" font-weight="normal" fill="#1c1c1c" textLength="59.2" lengthAdjust="spacingAndGlyphs"  stroke="#1c1c1c" stroke-width="0.15">[175mm]</text>
<circle cx="637.3" cy="626" r="3.1" fill="#111"/>
<circle cx="856.6" cy="626.2" r="3.1" fill="#111"/>
<line x1="637.3" y1="606" x2="637.3" y2="626" stroke="#222" stroke-width="1.1" />
<line x1="856.4" y1="567" x2="856.4" y2="626" stroke="#222" stroke-width="1.1" />
<line x1="637.3" y1="626" x2="700.2" y2="626" stroke="#777" stroke-width="0.9" />
<line x1="774" y1="626.1" x2="856.6" y2="626.1" stroke="#777" stroke-width="0.9" />
<text x="714.3" y="621.1" font-size="14.4" font-weight="normal" fill="#1c1c1c" textLength="44.2" lengthAdjust="spacingAndGlyphs"  stroke="#1c1c1c" stroke-width="0.15">13 1/4"</text>
<text x="707.4" y="636.2" font-size="14.2" font-weight="normal" fill="#1c1c1c" textLength="59.6" lengthAdjust="spacingAndGlyphs"  stroke="#1c1c1c" stroke-width="0.15">[337mm]</text>
</g>
</svg>
</body></html>
